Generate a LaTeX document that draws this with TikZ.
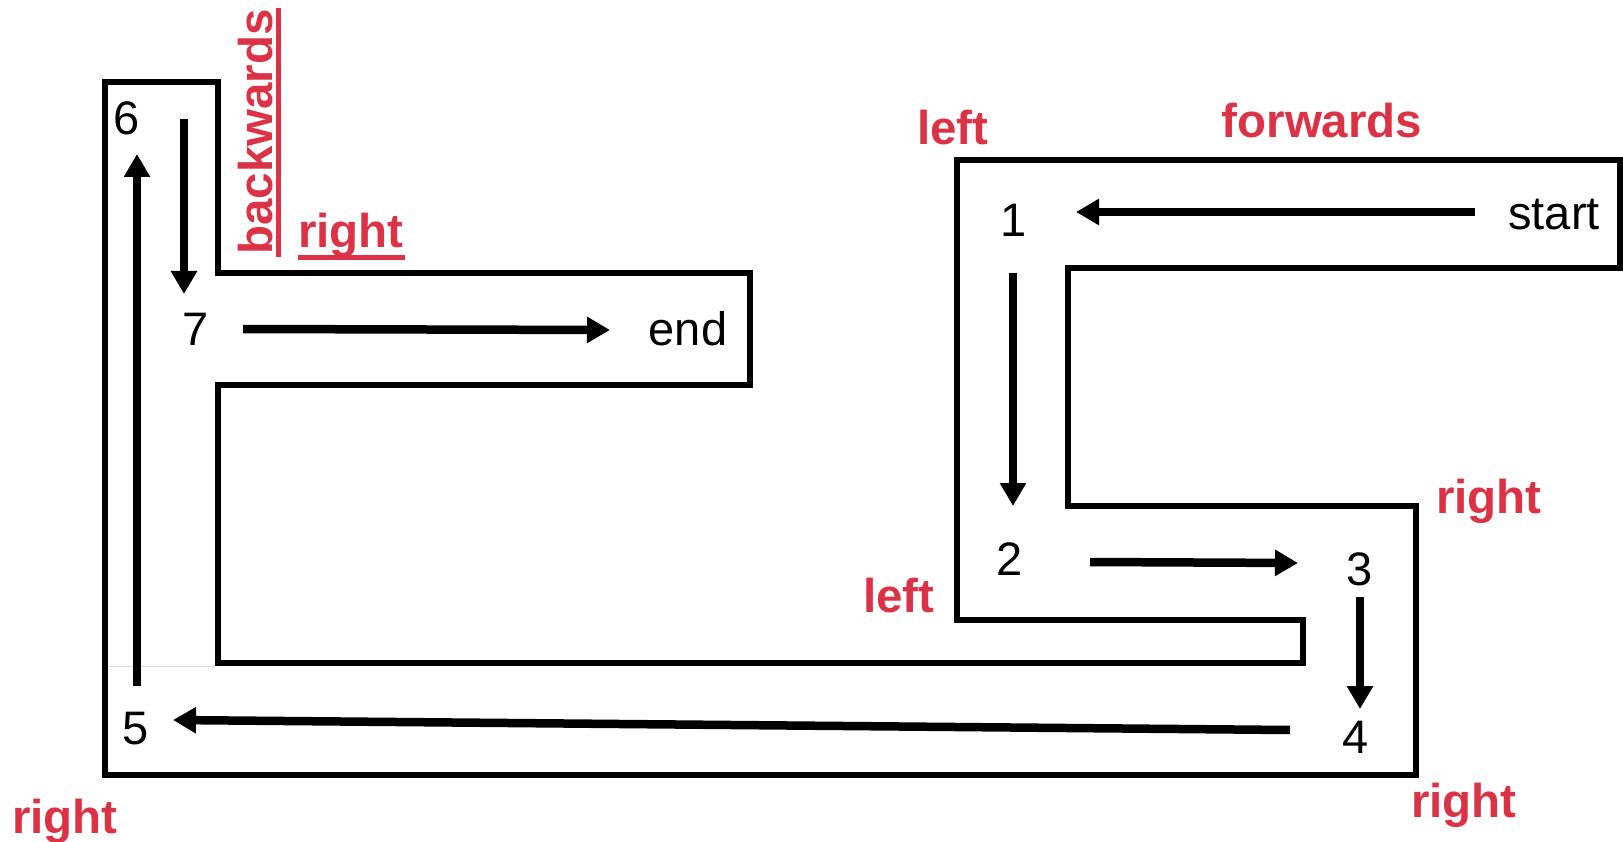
\documentclass[tikz,border=0pt]{standalone}
\usepackage{fontspec}
\setmainfont{Liberation Sans}
\usetikzlibrary{arrows.meta}
\definecolor{lblred}{RGB}{220,50,70}
\tikzset{
  wall/.style={line width=6pt, line join=miter},
  arr/.style={line width=8.5pt, -{Triangle[length=23pt,width=25pt]}},
  num/.style={anchor=base, inner sep=0pt, font=\fontsize{47}{52}\selectfont},
  dir/.style={anchor=base, inner sep=0pt, text=lblred, font=\fontsize{47.5}{52}\selectfont\bfseries},
  uline/.style={draw=lblred, line width=5pt}
}
\begin{document}
\begin{tikzpicture}[x=1pt,y=-1pt]
\useasboundingbox (0,0) rectangle (1623,842);
% corridor walls
\draw[wall] (105,82) -- (218,82) -- (218,273) -- (750,273) -- (750,385)
  -- (218,385) -- (218,663) -- (1303,663) -- (1303,620) -- (957,620)
  -- (957,160) -- (1620,160) -- (1620,268) -- (1068,268) -- (1068,506)
  -- (1416,506) -- (1416,775) -- (105,775) -- cycle;
\draw[gray!30, line width=1pt] (108,666) -- (215,666);
% labels
\node[num] (start) at (1554,230) {start};
\node[num] (n1) at (1014,237) {1};
\node[num] (n2) at (1010,575) {2};
\node[num] (n3) at (1360,585) {3};
\node[num] (n4) at (1356,753) {4};
\node[num] (n5) at (136,744) {5};
\node[num] (n6) at (127,135) {6};
\node[num] (n7) at (196,345) {7};
\node[num] (end) at (688,345) {end};
% arrow end points
\coordinate (a0s) at (1475,212); \coordinate (a0e) at (1076,212);
\coordinate (a1s) at (1013,273); \coordinate (a1e) at (1013,506);
\coordinate (a2s) at (1090,562); \coordinate (a2e) at (1298,563);
\coordinate (a3s) at (1360,597); \coordinate (a3e) at (1360,709);
\coordinate (a4s) at (1290,730); \coordinate (a4e) at (173,720);
\coordinate (a5s) at (137,686);  \coordinate (a5e) at (137,154);
\coordinate (a6s) at (184,119);  \coordinate (a6e) at (184,294);
\coordinate (a7s) at (243,329);  \coordinate (a7e) at (610,330);
\draw[arr] (a0s) -- (a0e);
\draw[arr] (a1s) -- (a1e);
\draw[arr] (a2s) -- (a2e);
\draw[arr] (a3s) -- (a3e);
\draw[arr] (a4s) -- (a4e);
\draw[arr] (a5s) -- (a5e);
\draw[arr] (a6s) -- (a6e);
\draw[arr] (a7s) -- (a7e);
% direction words
\node[dir] (lefttop) at (953,145) {left};
\node[dir] (fwd) at (1322,138) {forwards};
\node[dir] (right3) at (1489,513) {right};
\node[dir] (left2) at (899,612) {left};
\node[dir] (right4) at (1464,817) {right};
\node[dir] (right5) at (65,833) {right};
\node[dir, rotate=90] (bwd) at (272,132) {backwards};
\node[dir] (right6) at (351,248) {right};
\coordinate (ub1) at (278,8); \coordinate (ub2) at (278,257);
\coordinate (ur1) at (298,258); \coordinate (ur2) at (405,258);
\draw[uline] (ub1) -- (ub2);
\draw[uline] (ur1) -- (ur2);
\end{tikzpicture}
\end{document}
